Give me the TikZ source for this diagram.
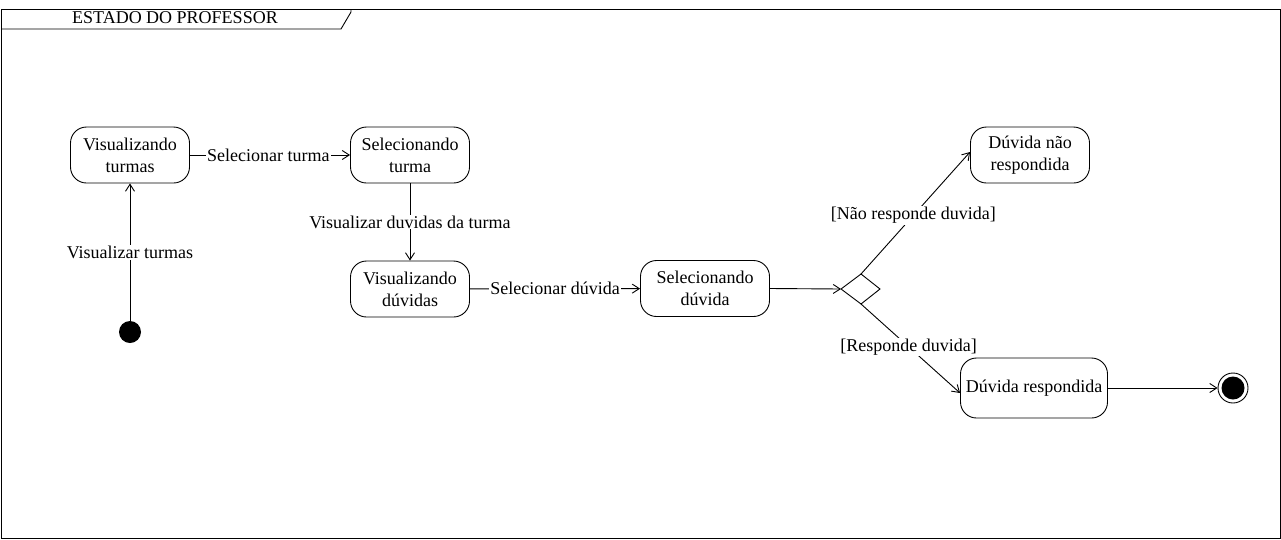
\documentclass[tikz,border=0pt]{standalone}
\usepackage{fontspec}
\setmainfont{Liberation Serif}
\usetikzlibrary{arrows.meta}
\begin{document}
\begin{tikzpicture}[x=1pt,y=-1pt,
  txt/.style={font=\fontsize{18}{22}\selectfont},
  state/.style={draw,rounded corners=16pt,minimum width=119pt,minimum height=56pt,align=center,txt,line width=0.9pt,inner sep=1pt},
  lbl/.style={fill=white,inner sep=1pt,txt},
  arr/.style={-{Straight Barb[length=7pt,width=9pt]},line width=0.9pt}]
\useasboundingbox (0,0) rectangle (1281,539);
\fill[white] (0,0) rectangle (1281,539);
\draw[line width=0.9pt] (1,9) rectangle (1280,538);
\draw[line width=0.9pt] (1,29) -- (341,29) -- (351,12) -- (351,9);
\node[txt] (title) at (175,18) {ESTADO DO PROFESSOR};

\node[state] (vt) at (130,155) {Visualizando\\turmas};
\node[state] (st) at (410,155) {Selecionando\\turma};
\node[state] (vd) at (410,289) {Visualizando\\dúvidas};
\node[state,minimum width=129pt] (sd) at (705,288.5) {Selecionando\\dúvida};
\node[state] (dn) at (1030,155) {Dúvida não\\respondida};
\node[state,minimum width=147pt,minimum height=60pt] (dr) at (1034,388) {Dúvida respondida};
\node[circle,fill=black,minimum size=22pt,inner sep=0] (init) at (130,332) {};
\node[circle,draw,line width=0.9pt,minimum size=30pt,inner sep=0] (fin) at (1233,388) {};
\node[circle,fill=black,minimum size=23pt,inner sep=0] (finin) at (1233,388) {};
\coordinate (dl) at (841,289);
\coordinate (dt) at (861,274);
\coordinate (drt) at (880,289);
\coordinate (db) at (861,304);
\draw[line width=0.9pt] (dl) -- (dt) -- (drt) -- (db) -- cycle;

\draw[arr] (init) -- (vt) node[lbl,pos=0.5] {Visualizar turmas};
\draw[arr] (vt) -- (st) node[lbl,pos=0.49] {Selecionar turma};
\draw[arr] (st) -- (vd) node[lbl,pos=0.5] {Visualizar duvidas da turma};
\draw[arr] (vd) -- (sd) node[lbl,pos=0.5] {Selecionar dúvida};
\draw[arr] (sd.east) -- (dl);
\draw[arr] (dt) -- ([yshift=3pt]dn.west) node[lbl,pos=0.48] {[Não responde duvida]};
\draw[arr] (db) -- ([yshift=-5pt]dr.west) node[lbl,pos=0.48] {[Responde duvida]};
\draw[arr] (dr) -- (fin);
\end{tikzpicture}
\end{document}
